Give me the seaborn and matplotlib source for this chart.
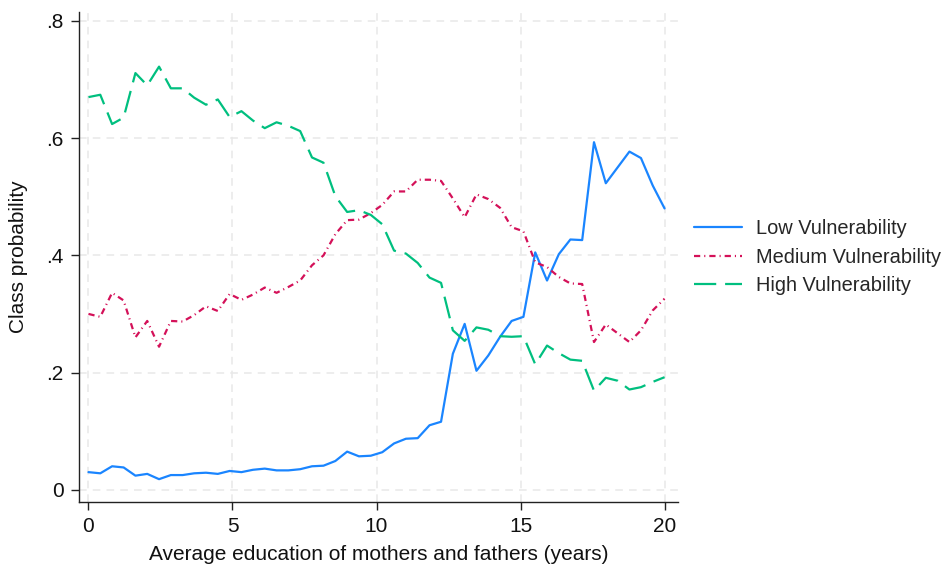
import numpy as np
import pandas as pd
import matplotlib
matplotlib.use("Agg")
import matplotlib.pyplot as plt
import seaborn as sns

# Average parental education (years), 50 evenly spaced evaluation points
education = [0.00, 0.41, 0.82, 1.22, 1.63, 2.04, 2.45, 2.86, 3.27, 3.67,
             4.08, 4.49, 4.90, 5.31, 5.71, 6.12, 6.53, 6.94, 7.35, 7.76,
             8.16, 8.57, 8.98, 9.39, 9.80, 10.20, 10.61, 11.02, 11.43, 11.84,
             12.24, 12.65, 13.06, 13.47, 13.88, 14.29, 14.69, 15.10, 15.51, 15.92,
             16.33, 16.73, 17.14, 17.55, 17.96, 18.37, 18.78, 19.18, 19.59, 20.00]

low_vuln = [0.030, 0.028, 0.040, 0.038, 0.024, 0.027, 0.018, 0.025, 0.025, 0.028,
            0.029, 0.027, 0.032, 0.030, 0.034, 0.036, 0.033, 0.033, 0.035, 0.040,
            0.041, 0.049, 0.065, 0.057, 0.058, 0.064, 0.079, 0.087, 0.088, 0.110,
            0.116, 0.232, 0.283, 0.203, 0.229, 0.261, 0.288, 0.295, 0.405, 0.357,
            0.402, 0.427, 0.426, 0.593, 0.523, 0.550, 0.577, 0.566, 0.519, 0.480]

medium_vuln = [0.300, 0.295, 0.336, 0.323, 0.260, 0.288, 0.244, 0.288, 0.287, 0.298,
               0.313, 0.305, 0.334, 0.324, 0.333, 0.345, 0.336, 0.346, 0.357, 0.383,
               0.400, 0.436, 0.460, 0.461, 0.472, 0.486, 0.509, 0.509, 0.529, 0.529,
               0.527, 0.497, 0.465, 0.504, 0.496, 0.481, 0.448, 0.441, 0.388, 0.380,
               0.363, 0.352, 0.351, 0.252, 0.282, 0.267, 0.252, 0.272, 0.306, 0.326]

high_vuln = [0.670, 0.674, 0.624, 0.635, 0.711, 0.690, 0.722, 0.685, 0.685, 0.669,
             0.657, 0.666, 0.636, 0.646, 0.630, 0.617, 0.627, 0.621, 0.612, 0.567,
             0.558, 0.501, 0.474, 0.477, 0.469, 0.453, 0.408, 0.403, 0.387, 0.362,
             0.353, 0.272, 0.254, 0.277, 0.273, 0.262, 0.261, 0.262, 0.214, 0.246,
             0.233, 0.222, 0.220, 0.169, 0.191, 0.186, 0.171, 0.175, 0.184, 0.192]

classes = ["Low Vulnerability", "Medium Vulnerability", "High Vulnerability"]
colors = {"Low Vulnerability": "#1a85ff",
          "Medium Vulnerability": "#d41159",
          "High Vulnerability": "#00bf7f"}
dash_styles = {"Low Vulnerability": "",
               "Medium Vulnerability": (2.8, 1.8, 0.5, 1.8),
               "High Vulnerability": (10, 4)}

y_ticks = [0, 0.2, 0.4, 0.6, 0.8]
y_tick_labels = ["0", ".2", ".4", ".6", ".8"]
x_ticks = [0, 5, 10, 15, 20]

df = pd.DataFrame({
    "education": education * 3,
    "prob": low_vuln + medium_vuln + high_vuln,
    "cls": [c for c in classes for _ in education],
})

sns.set_theme(style="white")
plt.rcParams["font.family"] = ["Liberation Sans", "DejaVu Sans"]

FS = 15
LEGEND_FS = 14.4

fig = plt.figure(figsize=(9.48, 5.67), dpi=100)
ax = fig.add_axes([0.0833, 0.1146, 0.6320, 0.8640])

sns.lineplot(data=df, x="education", y="prob", hue="cls", style="cls",
             hue_order=classes, style_order=classes,
             palette=colors, dashes=dash_styles, linewidth=1.6,
             ax=ax, legend=True)

ax.set_xlim(-0.33, 20.47)
ax.set_ylim(-0.021, 0.815)
ax.set_xticks(x_ticks)
ax.set_xticklabels([str(t) for t in x_ticks])
ax.set_yticks(y_ticks)
ax.set_yticklabels(y_tick_labels)

ax.grid(True, color="#e8e8e8", linestyle=(0, (5, 4)), linewidth=1.1)
ax.set_axisbelow(True)

for side in ["top", "right"]:
    ax.spines[side].set_visible(False)
for side in ["left", "bottom"]:
    ax.spines[side].set_color("#222222")
    ax.spines[side].set_linewidth(1.0)

ax.tick_params(axis="both", which="major", direction="out", length=6,
               width=1.0, color="#222222", labelsize=FS, labelcolor="#111111",
               left=True, bottom=True, pad=5)

ax.set_xlabel("Average education of mothers and fathers (years)", fontsize=FS,
              color="#111111", labelpad=6)
ax.set_ylabel("Class probability", fontsize=FS, color="#111111", labelpad=13)

handles, labels = ax.get_legend_handles_labels()
ax.legend(handles, labels, loc="center left", bbox_to_anchor=(1.02, 0.5),
          frameon=False, fontsize=LEGEND_FS, handlelength=2.4, handletextpad=0.7,
          labelspacing=0.48, borderaxespad=0.0, borderpad=0.2)

fig.savefig("out.png", dpi=100, facecolor="white")
